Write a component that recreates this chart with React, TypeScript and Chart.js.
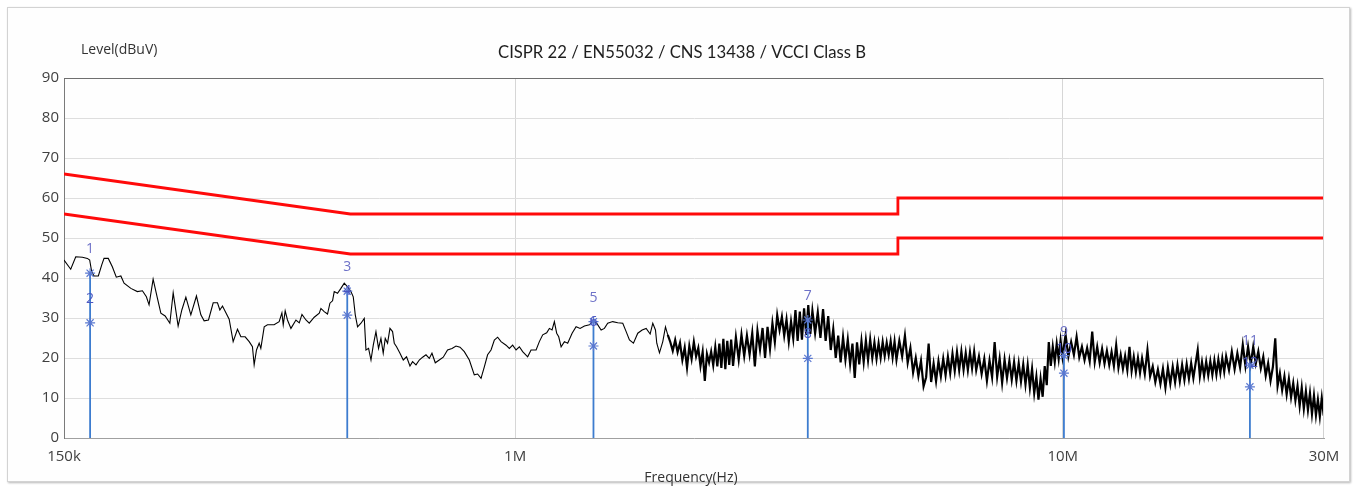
import React, { useEffect, useRef } from "react";
import { Chart, registerables } from "chart.js";

Chart.register(...registerables);

const TITLE = "CISPR 22 / EN55032 / CNS 13438 / VCCI Class B";
const Y_TITLE = "Level(dBuV)";
const X_TITLE = "Frequency(Hz)";

// frequencies in MHz
const X_TICKS = [0.15, 1, 10, 30];
const X_TICK_LABELS = ["150k", "1M", "10M", "30M"];
const Y_MIN = 0;
const Y_MAX = 90;
const Y_STEP = 10;

const QP_LIMIT_F = [0.15, 0.5, 5, 5, 30];
const QP_LIMIT_V = [66, 56, 56, 60, 60];
const AV_LIMIT_F = [0.15, 0.5, 5, 5, 30];
const AV_LIMIT_V = [56, 46, 46, 50, 50];

const MARKER_F = [0.1674, 0.4936, 1.39, 3.423, 10.05, 21.97];
const MARKER_QP = [41.2, 36.7, 29.1, 29.5, 20.6, 18.2];
const MARKER_AV = [28.8, 30.7, 23.0, 19.9, 16.2, 12.8];

// measured spectrum [MHz, dBuV]
const TRACE_LOW: number[][] = [
  [0.150,44.5],[0.1543,42.2],[0.1576,45.3],[0.1621,45.2],[0.1655,44.9],[0.1671,44.5],[0.1685,41.6],[0.1702,40.5],[0.1733,40.5],[0.1758,43.3],
  [0.1775,44.9],[0.1807,44.9],[0.1838,42.8],[0.1869,40.2],[0.1905,40.5],[0.1931,38.7],[0.1987,37.4],[0.2042,36.6],[0.2086,36.8],[0.2121,35.3],
  [0.2145,33.3],[0.2182,39.7],[0.2222,34.9],[0.2254,31.2],[0.2295,30.5],[0.2341,28.7],[0.2374,36.3],[0.2424,28.0],[0.2462,32.0],[0.2504,35.2],
  [0.2557,30.8],[0.2618,35.5],[0.2667,30.8],[0.2704,29.3],[0.2754,29.5],[0.2809,33.8],[0.2860,33.8],[0.2889,32.0],[0.2921,33.0],[0.2963,31.3],
  [0.3004,29.7],[0.3055,24.1],[0.3111,27.2],[0.3156,25.3],[0.3213,25.3],[0.3268,24.1],[0.3313,22.8],[0.3337,18.3],[0.3370,22.0],[0.3408,23.7],
  [0.3432,22.4],[0.3481,27.8],[0.3529,28.3]
];
const TRACE_MID: number[][] = [
  [0.3543,28.3],[0.3629,28.3],[0.3707,29.1],[0.3750,31.3],[0.3771,28.3],[0.3802,31.8],[0.3839,29.5],[0.3895,27.4],[0.3978,29.5],[0.4034,28.8],
  [0.4080,30.9],[0.4149,29.5],[0.4207,28.7],[0.4296,30.2],[0.4388,31.2],[0.4419,32.4],[0.4480,31.6],[0.4543,31.0],[0.4589,33.7],[0.4640,34.3],
  [0.4673,36.6],[0.4738,36.2],[0.4806,37.4],[0.4874,38.7],[0.4942,37.8],[0.5013,36.6],[0.5062,35.3],[0.5105,30.8],[0.5155,27.8],[0.5229,28.7],
  [0.5302,29.9],[0.5340,22.0],[0.5399,22.4],[0.5454,19.5],[0.5507,23.2],[0.5569,26.6],[0.5630,22.4],[0.5687,24.9],[0.5742,21.2],[0.5791,24.9],
  [0.5848,23.7],[0.5907,27.4],[0.5972,26.6],[0.6015,23.7],[0.6073,22.8],[0.6161,21.2],[0.6247,19.5],[0.6334,20.3],[0.6425,18.0],[0.6496,19.1],
  [0.6590,18.3],[0.6682,19.5],[0.6776,20.2],[0.6873,20.8],[0.6969,19.9],[0.7048,21.2],[0.7147,18.8],[0.7268,19.5],[0.7391,20.2],[0.7526,22.0],
  [0.7668,22.4],[0.7798,23.0],[0.7930,22.7],
  [0.8075,21.6],[0.8247,19.5],[0.8421,15.8],[0.8540,16.0],[0.8663,14.9],[0.8784,17.8],[0.8906,20.8],[0.9035,22.0],[0.9162,24.5],[0.9290,25.2],
  [0.9424,24.1],[0.9625,23.2],[0.9759,22.4],[0.9895,23.2],[1.0038,22.0],[1.0179,22.8],[1.0320,21.6],[1.0540,20.3],[1.0691,22.0],[1.0920,22.0],
  [1.1071,24.1],[1.1228,25.8],[1.1418,26.3],[1.1548,27.4],[1.1679,27.0],[1.1793,29.1],[1.1908,26.2],[1.2010,25.3],[1.2132,22.8],[1.2301,24.1],
  [1.2472,23.7],[1.2706,26.2],[1.2921,27.8],[1.3140,27.4],[1.3381,28.0],[1.3665,28.3],[1.3855,29.1],[1.4090,28.7],[1.4355,27.0],[1.4555,27.4],
  [1.4757,28.7],[1.5073,29.1],[1.5393,28.8],[1.5722,28.7],[1.5948,26.6],[1.6170,24.5],[1.6444,23.7],[1.6746,26.2],[1.7058,27.0],[1.7348,27.4],
  [1.7642,26.0],[1.7838,28.7],[1.8040,27.0],[1.8140,23.7],[1.8346,21.3],[1.8604,24.1],[1.8815,27.8],[1.8998,25.8]
];
const TRACE_HIGH: number[][] = [
  [1.92,24.0],[1.94,21.8],[1.96,24.5],[1.98,21.5],[2.00,23.8],[2.02,19.5],[2.04,22.6],[2.06,17.6],[2.08,23.0],[2.10,19.8],
  [2.12,24.0],[2.14,20.4],[2.16,22.5],[2.18,18.0],[2.20,21.5],[2.22,14.3],[2.24,21.0],[2.26,18.9],[2.28,21.6],[2.30,18.2],
  [2.32,22.7],[2.34,17.9],[2.36,23.6],[2.38,17.5],[2.40,24.8],[2.42,17.2],[2.44,24.3],[2.46,18.3],[2.48,24.6],[2.50,18.0],
  [2.53,25.2],[2.56,19.6],[2.59,25.8],[2.62,20.5],[2.65,25.6],[2.68,20.9],[2.71,26.2],[2.74,17.9],[2.77,26.8],[2.80,22.1],
  [2.83,27.5],[2.86,20.0],[2.89,27.8],[2.92,22.3],[2.95,28.7],[2.98,24.0],[3.01,30.7],[3.04,27.0],[3.07,30.3],[3.10,25.6],
  [3.13,29.6],[3.16,24.1],[3.19,29.1],[3.22,24.9],[3.25,32.0],[3.28,24.3],[3.31,31.6],[3.34,24.6],[3.37,32.4],[3.40,25.8],
  [3.43,33.2],[3.46,26.0],[3.49,31.8],
  [3.53,26.2],[3.57,31.4],[3.61,25.0],[3.65,32.2],[3.69,24.3],[3.73,30.5],[3.77,22.0],[3.81,27.2],[3.85,20.0],[3.89,25.6],
  [3.93,18.9],[3.97,25.2],[4.01,19.6],[4.05,24.6],[4.09,18.5],[4.13,23.6],[4.17,15.0],[4.21,23.9],[4.25,18.4],[4.29,24.2],
  [4.33,19.0],[4.37,24.4],[4.41,19.5],[4.45,24.6],[4.49,20.0],[4.53,23.9],[4.57,19.8],[4.61,23.7],[4.65,20.1],[4.69,24.0],
  [4.73,20.5],[4.77,23.8],[4.81,20.8],[4.85,24.2],[4.89,20.2],[4.93,24.1],[4.97,19.6],
  [5.03,24.3],[5.09,20.4],[5.15,25.6],[5.21,18.8],[5.27,22.5],[5.33,16.4],[5.39,20.0],[5.45,15.5],[5.51,19.3],[5.57,12.9],
  [5.63,15.2],[5.69,23.6],[5.75,14.0],[5.81,18.6],[5.87,14.2],[5.93,19.2],[5.99,15.4],[6.05,19.8],[6.11,15.7],[6.17,20.3],
  [6.23,16.2],[6.29,21.1],[6.35,16.8],[6.41,21.5],[6.47,17.0],[6.53,21.6],[6.59,17.1],[6.65,21.2],[6.71,17.0],[6.77,21.4],
  [6.83,17.4],[6.89,21.6],[6.95,17.0],
  [7.03,20.4],[7.11,16.0],[7.19,19.8],[7.27,14.3],[7.35,19.4],[7.43,15.2],[7.51,24.0],[7.59,15.3],[7.67,19.9],[7.75,13.8],
  [7.83,19.6],[7.91,15.0],[7.99,19.3],[8.07,14.6],[8.15,19.0],[8.23,14.3],[8.31,18.7],[8.39,14.1],[8.47,18.4],[8.55,13.4],
  [8.63,18.2],[8.71,12.6],[8.79,17.3],[8.87,11.2],[8.95,15.3],[9.03,9.6],[9.11,14.8],[9.19,10.3],[9.27,18.0],[9.35,13.2],
  [9.43,24.0],[9.51,18.0],[9.59,22.8],[9.67,19.0],[9.75,23.6],[9.83,19.8],[9.91,24.4],[9.99,20.3],
  [10.12,25.8],[10.24,20.4],[10.36,24.0],[10.48,20.8],[10.60,25.3],[10.72,20.2],[10.84,22.8],[10.96,19.5],[11.08,22.5],[11.20,19.2],
  [11.32,26.6],[11.44,19.0],[11.56,22.8],[11.68,18.8],[11.80,22.3],[11.92,18.6],[12.04,21.8],[12.16,18.3],[12.28,21.5],[12.40,18.0],
  [12.52,23.2],[12.64,17.6],[12.76,20.8],[12.88,17.3],[13.00,20.5],[13.12,17.0],[13.24,22.8],[13.36,16.8],[13.48,20.3],[13.60,16.5],
  [13.72,20.0],[13.84,16.3],[13.96,19.9],
  [14.12,16.0],[14.28,22.0],[14.44,15.4],[14.60,17.9],[14.76,14.0],[14.92,17.1],[15.08,13.5],[15.24,17.3],[15.40,12.6],[15.56,17.6],
  [15.72,13.6],[15.88,17.8],[16.04,13.9],[16.20,18.2],[16.36,14.2],[16.52,18.3],[16.68,14.5],[16.84,18.5],[17.00,14.8],[17.16,18.7],
  [17.32,15.0],[17.48,18.6],[17.64,22.0],[17.80,15.4],[17.96,19.0],[18.12,15.5],[18.28,19.1],[18.44,15.7],[18.60,19.2],[18.76,15.8],
  [18.92,19.4],[19.08,15.9],[19.24,19.6],[19.40,16.3],[19.56,19.9],[19.72,16.6],[19.88,20.4],
  [20.12,17.0],[20.36,21.6],[20.60,17.2],[20.84,21.2],[21.08,17.6],[21.32,23.3],[21.56,18.0],[21.80,22.8],[22.04,18.4],[22.28,22.8],
  [22.52,18.6],[22.76,21.6],[23.00,17.4],[23.24,20.3],[23.48,15.6],[23.72,18.7],[23.96,14.3],[24.20,17.8],[24.44,24.9],[24.68,13.0],
  [24.92,16.2],[25.16,12.0],[25.40,15.4],[25.64,10.9],[25.88,14.8],[26.12,10.2],[26.36,13.7],[26.60,9.4],[26.84,13.0],[27.08,8.0],
  [27.32,12.6],[27.56,7.3],[27.80,11.7],[28.04,7.0],[28.28,11.2],[28.52,6.0],[28.76,10.6],[29.00,5.7],[29.24,9.6],[29.48,5.4],
  [29.72,10.0],[29.96,5.6]
];

const TICK_FONT = "'Open Sans', 'DejaVu Sans', sans-serif";

const overlay = {
  id: "overlay",
  afterDatasetsDraw(chart: any) {
    const { ctx, chartArea: a, scales } = chart;
    ctx.save();
    // frame: top and right edges
    ctx.lineWidth = 1;
    ctx.strokeStyle = "#6f6f6f";
    ctx.beginPath();
    ctx.moveTo(a.left, a.top + 0.5);
    ctx.lineTo(a.right, a.top + 0.5);
    ctx.stroke();
    ctx.strokeStyle = "#d2d2d2";
    ctx.beginPath();
    ctx.moveTo(a.right - 0.5, a.top);
    ctx.lineTo(a.right - 0.5, a.bottom);
    ctx.stroke();
    // marker numbers
    ctx.font = "14px " + TICK_FONT;
    ctx.textAlign = "center";
    ctx.textBaseline = "middle";
    MARKER_F.forEach((f, i) => {
      const x = scales.x.getPixelForValue(f);
      ctx.fillStyle = "#6e72c8";
      ctx.fillText(String(2 * i + 1), x, scales.y.getPixelForValue(MARKER_QP[i]) - 24);
      ctx.fillStyle = "#4a55c0";
      ctx.fillText(String(2 * i + 2), x, scales.y.getPixelForValue(MARKER_AV[i]) - 24);
    });
    // titles
    ctx.fillStyle = "#1e1e1e";
    ctx.font = "18px Lato, 'Open Sans', sans-serif";
    ctx.textAlign = "center";
    ctx.fillText(TITLE, 682, 52, 368);
    ctx.fillStyle = "#333";
    ctx.font = "14px " + TICK_FONT;
    ctx.textAlign = "left";
    ctx.fillText(Y_TITLE, 81, 50, 82);
    ctx.textAlign = "center";
    ctx.fillText(X_TITLE, 691, 478, 100);
    ctx.restore();
  },
};

export default function App() {
  const ref = useRef<HTMLCanvasElement | null>(null);

  useEffect(() => {
    if (!ref.current) return;
    const toPts = (arr: number[][]) => arr.map(([x, y]) => ({ x, y }));
    const traceLow = [...toPts(TRACE_LOW), ...toPts(TRACE_MID)];
    const traceHigh = [...toPts(TRACE_MID.slice(-1)), ...toPts(TRACE_HIGH)];

    const markerLines = MARKER_F.map((f, i) => ({
      data: [{ x: f, y: 0 }, { x: f, y: MARKER_QP[i] }],
      borderColor: "#3d7ccf",
      borderWidth: 1.8,
      pointRadius: 0,
      order: 1,
    }));

    const stars = {
      data: [
        ...MARKER_F.map((f, i) => ({ x: f, y: MARKER_QP[i] })),
        ...MARKER_F.map((f, i) => ({ x: f, y: MARKER_AV[i] })),
      ],
      showLine: false,
      pointStyle: "star",
      pointRadius: 5,
      borderWidth: 1.2,
      borderColor: "#5a78d0",
      backgroundColor: "#5a78d0",
      order: 0,
    };

    const chart = new Chart(ref.current, {
      type: "line",
      data: {
        datasets: [
          stars,
          ...markerLines,
          {
            data: QP_LIMIT_F.map((f, i) => ({ x: f, y: QP_LIMIT_V[i] })),
            borderColor: "#ff0a0a",
            borderWidth: 2.8,
            pointRadius: 0,
            order: 2,
          },
          {
            data: AV_LIMIT_F.map((f, i) => ({ x: f, y: AV_LIMIT_V[i] })),
            borderColor: "#ff0a0a",
            borderWidth: 2.8,
            pointRadius: 0,
            order: 2,
          },
          {
            data: traceLow,
            borderColor: "#000000",
            borderWidth: 1.1,
            pointRadius: 0,
            tension: 0,
            order: 3,
          },
          {
            data: traceHigh,
            borderColor: "#000000",
            borderWidth: 2.2,
            pointRadius: 0,
            tension: 0,
            borderJoinStyle: "miter",
            order: 3,
          },
        ] as any,
      },
      options: {
        animation: false,
        responsive: false,
        maintainAspectRatio: false,
        layout: { padding: { top: 78, right: 35, bottom: 0, left: 0 } },
        plugins: {
          legend: { display: false },
          title: { display: false },
          tooltip: { enabled: false },
        },
        scales: {
          x: {
            type: "logarithmic",
            min: X_TICKS[0],
            max: X_TICKS[X_TICKS.length - 1],
            afterBuildTicks: (s: any) => {
              s.ticks = X_TICKS.map((v) => ({ value: v }));
            },
            afterFit: (s: any) => {
              s.height = 53;
            },
            ticks: {
              autoSkip: false,
              maxRotation: 0,
              padding: 10,
              color: "#404040",
              font: { family: TICK_FONT, size: 15 },
              callback: (v: any, i: number) => X_TICK_LABELS[i],
            },
            grid: {
              drawTicks: false,
              color: (c: any) =>
                c.tick && (c.tick.value === 1 || c.tick.value === 10) ? "#d6d6d6" : "rgba(0,0,0,0)",
            },
            border: { display: true, color: "#a0a0a0" },
          },
          y: {
            min: Y_MIN,
            max: Y_MAX,
            afterFit: (s: any) => {
              s.width = 64;
            },
            ticks: {
              stepSize: Y_STEP,
              padding: 5,
              color: "#404040",
              font: { family: TICK_FONT, size: 15 },
            },
            grid: { drawTicks: false, color: "#dedede" },
            border: { display: true, color: "#7a7a7a" },
          },
        },
      } as any,
      plugins: [overlay],
    });
    return () => chart.destroy();
  }, []);

  return (
    <div style={{ position: "absolute", left: 0, top: 0, width: 1359, height: 491, background: "#fff" }}>
      <div
        style={{
          position: "absolute",
          left: 7,
          top: 7,
          width: 1341,
          height: 473,
          border: "1px solid #d3d3d3",
          boxShadow: "1px 1px 2px #b8b8b8",
          background: "#fefefe",
        }}
      />
      <canvas ref={ref} width={1359} height={491} style={{ position: "absolute", left: 0, top: 0 }} />
    </div>
  );
}
